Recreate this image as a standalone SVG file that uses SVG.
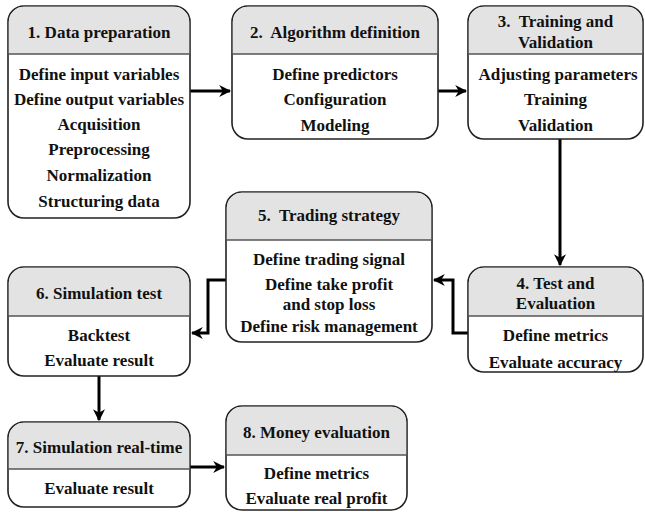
<svg xmlns="http://www.w3.org/2000/svg" width="645" height="512" viewBox="0 0 645 512">
<style>
.box{fill:#fff;stroke:#222;stroke-width:1.6}
.hd{fill:#e3e3e3;stroke:none}
.dv{stroke:#555;stroke-width:1.6}
text{font-family:"Liberation Serif","Times New Roman",serif;font-weight:bold;font-size:17px;fill:#111;text-anchor:middle}
.cn{fill:none;stroke:#000;stroke-width:3}
</style>
<defs>
<marker id="ah" viewBox="0 0 10 10" refX="9" refY="5" markerWidth="4" markerHeight="4" markerUnits="strokeWidth" orient="auto">
<path d="M0,0 L10,5 L0,10 L3,5 Z" fill="#000"/>
</marker>
</defs>
<g id="connectors">
<path class="cn" d="M190,91 H230" marker-end="url(#ah)"/>
<path class="cn" d="M438,91 H466" marker-end="url(#ah)"/>
<path class="cn" d="M560,139 V265" marker-end="url(#ah)"/>
<path class="cn" d="M468,333 H453 V280 H434" marker-end="url(#ah)"/>
<path class="cn" d="M226,280 H208 V333 H192" marker-end="url(#ah)"/>
<path class="cn" d="M99,376 V420" marker-end="url(#ah)"/>
<path class="cn" d="M190,467 H224" marker-end="url(#ah)"/>
</g>
<g id="node1">
<rect class="box" x="8" y="6" width="182" height="212" rx="16"/>
<path class="hd" d="M8.8,54 V22 A15.2,15.2 0 0 1 24,6.8 H174 A15.2,15.2 0 0 1 189.2,22 V54 Z"/>
<line class="dv" x1="8" y1="54" x2="190" y2="54"/>
<text x="99" y="38">1. Data preparation</text>
<text x="99" y="80">Define input variables</text>
<text x="99" y="105">Define output variables</text>
<text x="99" y="130">Acquisition</text>
<text x="99" y="155">Preprocessing</text>
<text x="99" y="181">Normalization</text>
<text x="99" y="207">Structuring data</text>
</g>
<g id="node2">
<rect class="box" x="232" y="6" width="206" height="133" rx="16"/>
<path class="hd" d="M232.8,54 V22 A15.2,15.2 0 0 1 248,6.8 H422 A15.2,15.2 0 0 1 437.2,22 V54 Z"/>
<line class="dv" x1="232" y1="54" x2="438" y2="54"/>
<text x="335" y="38" xml:space="preserve">2.  Algorithm definition</text>
<text x="335" y="80">Define predictors</text>
<text x="335" y="105">Configuration</text>
<text x="335" y="131">Modeling</text>
</g>
<g id="node3">
<rect class="box" x="468" y="6" width="175" height="133" rx="16"/>
<path class="hd" d="M468.8,54 V22 A15.2,15.2 0 0 1 484,6.8 H627 A15.2,15.2 0 0 1 642.2,22 V54 Z"/>
<line class="dv" x1="468" y1="54" x2="643" y2="54"/>
<text x="555.5" y="27" xml:space="preserve">3.  Training and</text>
<text x="555.5" y="48">Validation</text>
<text x="558" y="80">Adjusting parameters</text>
<text x="555.5" y="105">Training</text>
<text x="555.5" y="131">Validation</text>
</g>
<g id="node4">
<rect class="box" x="468" y="267" width="175" height="105" rx="16"/>
<path class="hd" d="M468.8,316 V283 A15.2,15.2 0 0 1 484,267.8 H627 A15.2,15.2 0 0 1 642.2,283 V316 Z"/>
<line class="dv" x1="468" y1="316" x2="643" y2="316"/>
<text x="555.5" y="289">4. Test and</text>
<text x="555.5" y="309">Evaluation</text>
<text x="555.5" y="341">Define metrics</text>
<text x="555.5" y="368">Evaluate accuracy</text>
</g>
<g id="node5">
<rect class="box" x="226" y="192" width="206" height="150" rx="16"/>
<path class="hd" d="M226.8,240 V208 A15.2,15.2 0 0 1 242,192.8 H416 A15.2,15.2 0 0 1 431.2,208 V240 Z"/>
<line class="dv" x1="226" y1="240" x2="432" y2="240"/>
<text x="329" y="221" xml:space="preserve">5.  Trading strategy</text>
<text x="329" y="265">Define trading signal</text>
<text x="329" y="290">Define take profit</text>
<text x="329" y="310">and stop loss</text>
<text x="329" y="332">Define risk management</text>
</g>
<g id="node6">
<rect class="box" x="8" y="267" width="182" height="109" rx="16"/>
<path class="hd" d="M8.8,316 V283 A15.2,15.2 0 0 1 24,267.8 H174 A15.2,15.2 0 0 1 189.2,283 V316 Z"/>
<line class="dv" x1="8" y1="316" x2="190" y2="316"/>
<text x="99" y="299">6. Simulation test</text>
<text x="99" y="341">Backtest</text>
<text x="99" y="366">Evaluate result</text>
</g>
<g id="node7">
<rect class="box" x="8" y="422" width="182" height="85" rx="16"/>
<path class="hd" d="M8.8,469 V438 A15.2,15.2 0 0 1 24,422.8 H174 A15.2,15.2 0 0 1 189.2,438 V469 Z"/>
<line class="dv" x1="8" y1="469" x2="190" y2="469"/>
<text x="99" y="453">7. Simulation real-time</text>
<text x="99" y="494">Evaluate result</text>
</g>
<g id="node8">
<rect class="box" x="226" y="406" width="181" height="104" rx="16"/>
<path class="hd" d="M226.8,455 V422 A15.2,15.2 0 0 1 242,406.8 H391 A15.2,15.2 0 0 1 406.2,422 V455 Z"/>
<line class="dv" x1="226" y1="455" x2="407" y2="455"/>
<text x="316.5" y="438">8. Money evaluation</text>
<text x="316.5" y="479">Define metrics</text>
<text x="316.5" y="504">Evaluate real profit</text>
</g>
</svg>
